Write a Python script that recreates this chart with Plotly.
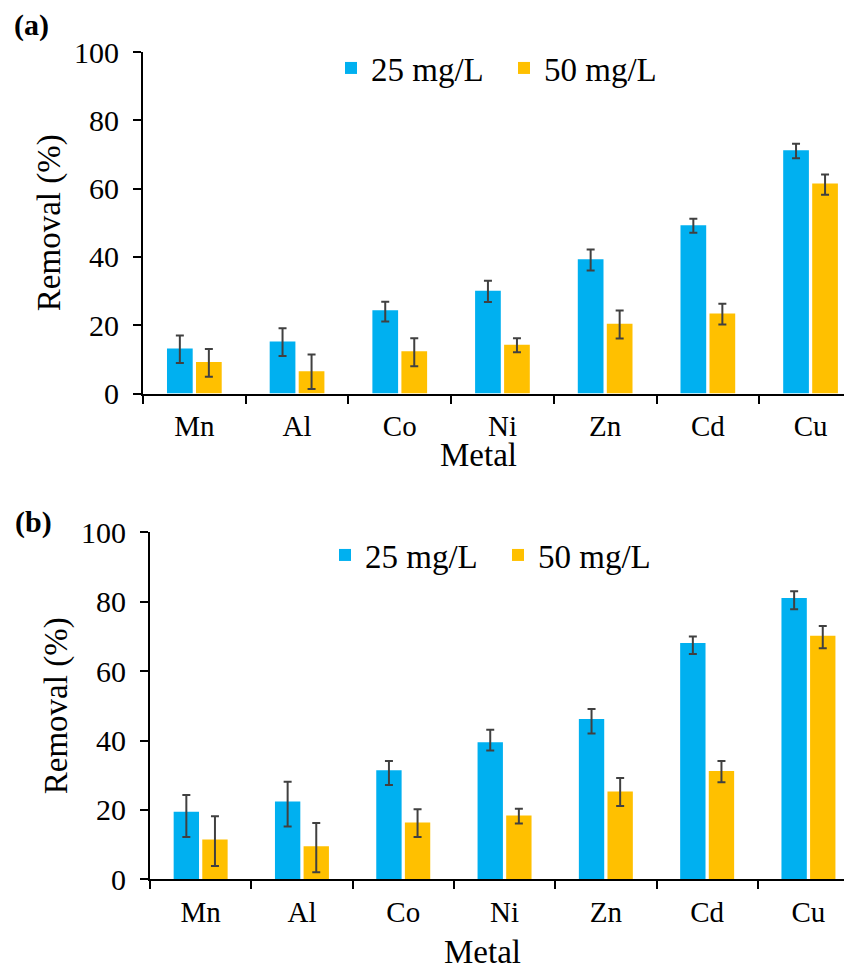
import plotly.graph_objects as go

# ---------------- data ----------------
metals = ["Mn", "Al", "Co", "Ni", "Zn", "Cd", "Cu"]
series_names = ["25 mg/L", "50 mg/L"]
y_ticks = [0, 20, 40, 60, 80, 100]

# panel (a)
a_25 = [13.2, 15.2, 24.4, 30.1, 39.3, 49.3, 71.2]
a_25_err_plus = [3.8, 3.9, 2.5, 2.9, 2.9, 1.9, 1.9]
a_25_err_minus = [4.3, 4.2, 3.3, 3.3, 3.3, 2.2, 2.3]
a_50 = [9.2, 6.5, 12.4, 14.3, 20.4, 23.4, 61.5]
a_50_err_plus = [3.8, 4.9, 3.8, 1.9, 3.9, 2.9, 2.6]
a_50_err_minus = [4.3, 5.2, 4.4, 2.2, 4.3, 3.2, 3.3]

# panel (b)
b_25 = [19.5, 22.4, 31.4, 39.5, 46.2, 68.1, 81.1]
b_25_err_plus = [4.8, 5.7, 2.7, 3.6, 2.9, 1.9, 1.9]
b_25_err_minus = [7.3, 7.2, 4.2, 2.4, 4.2, 3.2, 3.3]
b_50 = [11.5, 9.5, 16.4, 18.4, 25.3, 31.2, 70.2]
b_50_err_plus = [6.7, 6.7, 3.8, 1.9, 3.9, 2.9, 2.8]
b_50_err_minus = [7.7, 7.5, 4.2, 2.3, 4.2, 3.2, 3.6]

# ---------------- styling ----------------
FONT = "Liberation Serif"
BLUE = "#00B0F0"
ORANGE = "#FFC000"
ERR = "#404040"
W, H = 852, 964
OFF = 8  # page body margin: the figure is drawn 8px right/down of the window origin

fig = go.Figure()


def add_bar(y, ep, em, name, color, xa, ya, legend):
    fig.add_trace(go.Bar(
        x=metals, y=y, name=name,
        marker=dict(color=color, line=dict(width=0)),
        error_y=dict(type="data", symmetric=False, array=ep, arrayminus=em,
                     color=ERR, thickness=2, width=4),
        xaxis=xa, yaxis=ya, legend=legend, showlegend=True,
    ))


add_bar(a_25, a_25_err_plus, a_25_err_minus, series_names[0], BLUE, "x", "y", "legend")
add_bar(a_50, a_50_err_plus, a_50_err_minus, series_names[1], ORANGE, "x", "y", "legend")
add_bar(b_25, b_25_err_plus, b_25_err_minus, series_names[0], BLUE, "x2", "y2", "legend2")
add_bar(b_50, b_50_err_plus, b_50_err_minus, series_names[1], ORANGE, "x2", "y2", "legend2")

n = len(metals)
boundaries = [i - 0.5 for i in range(n + 1)]

# panel geometry (pixels in the window)
panels = {
    "a": dict(left=143, y0=393.5, y100=52, step=102.7),
    "b": dict(left=150, y0=879.3, y100=532.3, step=101.3),
}


def px(v):
    return (v - OFF) / W


def py(v):
    return 1 - (v - OFF) / H


def xrange_for(p):
    return [-0.5, -0.5 + (W - (p["left"] - OFF)) / p["step"]]


def ydomain_for(p):
    return [py(p["y0"]), py(p["y100"])]


axis_common = dict(showline=True, linecolor="black", linewidth=2,
                   ticks="outside", ticklen=8, tickwidth=2, tickcolor="black",
                   showgrid=False, zeroline=False, automargin=False)
inner_common = dict(ticks="inside", ticklen=8, tickwidth=2, tickcolor="black",
                    showticklabels=False, showline=False, showgrid=False,
                    zeroline=False, automargin=False)

layout_axes = {}
for idx, key in ((1, "a"), (2, "b")):
    p = panels[key]
    xs = "" if idx == 1 else str(idx)
    ov = str(idx + 2)
    xr = xrange_for(p)
    yd = ydomain_for(p)
    layout_axes["xaxis" + xs] = dict(
        axis_common, domain=[px(p["left"]), 1], anchor="y" + xs,
        type="category", categoryorder="array", categoryarray=metals,
        range=xr, tickson="boundaries", ticklabelstandoff=6,
        tickfont=dict(family=FONT, size=29, color="black"))
    layout_axes["yaxis" + xs] = dict(
        axis_common, domain=yd, anchor="x" + xs, range=[0, 100],
        tickmode="array", tickvals=y_ticks, ticktext=[str(v) for v in y_ticks],
        ticklabelstandoff=8,
        tickfont=dict(family=FONT, size=30, color="black"),
        title=dict(text="Removal (%)", standoff=3,
                   font=dict(family=FONT, size=33, color="black")))
    layout_axes["xaxis" + ov] = dict(
        inner_common, overlaying="x" + xs, anchor="y" + xs, type="linear",
        range=xr, tickmode="array", tickvals=boundaries)
    layout_axes["yaxis" + ov] = dict(
        inner_common, overlaying="y" + xs, anchor="x" + xs, range=[0, 100],
        tickmode="array", tickvals=y_ticks)

legend_common = dict(orientation="h", xanchor="left", yanchor="middle",
                     bgcolor="rgba(0,0,0,0)", borderwidth=0,
                     font=dict(family=FONT, size=33, color="black"),
                     entrywidth=128, entrywidthmode="pixels",
                     traceorder="normal")

fig.update_layout(
    template="none",
    width=W, height=H,
    margin=dict(l=0, r=0, t=0, b=0, autoexpand=False),
    paper_bgcolor="white", plot_bgcolor="white",
    font=dict(family=FONT, size=29, color="black"),
    barmode="group", bargap=0.435, bargroupgap=0.114,
    showlegend=True,
    legend=dict(legend_common, x=px(331), y=py(68)),
    legend2=dict(legend_common, x=px(325), y=py(555)),
    **layout_axes,
)

annotations = [
    dict(text="<b>(a)</b>", x=px(31), y=py(25), size=30),
    dict(text="<b>(b)</b>", x=px(33), y=py(522), size=30),
    dict(text="Metal", x=px(478), y=py(455), size=33),
    dict(text="Metal", x=px(482), y=py(952), size=33),
]
for a in annotations:
    fig.add_annotation(xref="paper", yref="paper", showarrow=False,
                       xanchor="center", yanchor="middle",
                       x=a["x"], y=a["y"], text=a["text"],
                       font=dict(family=FONT, color="black", size=a["size"]))

fig.write_html("out.html")
